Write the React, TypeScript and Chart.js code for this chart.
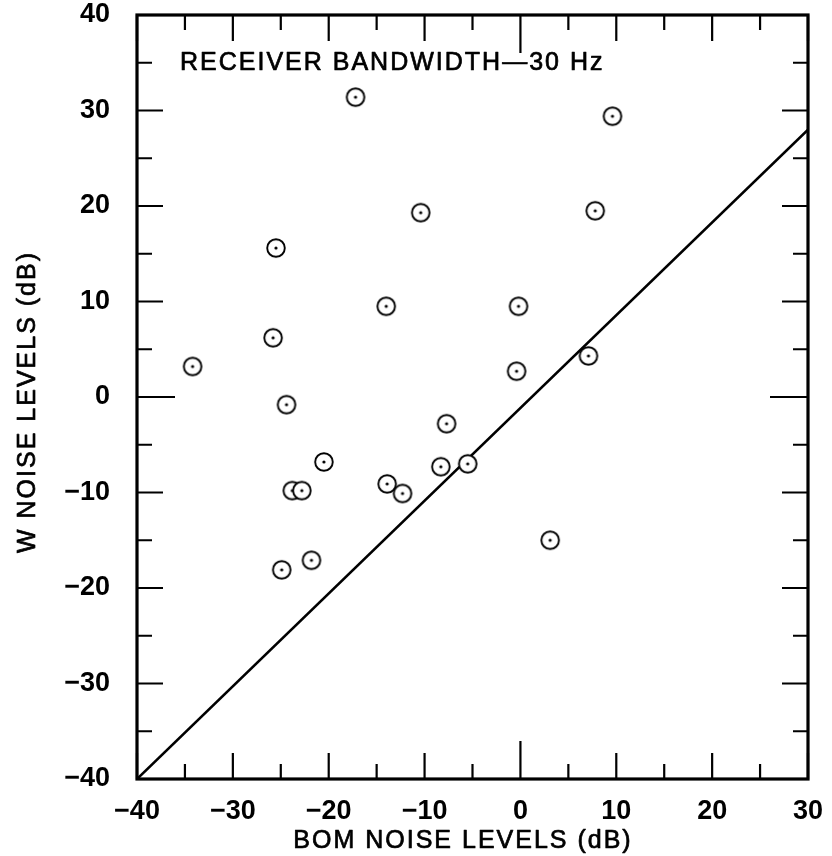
import React, { useEffect, useRef } from 'react';
import { Chart, registerables } from 'chart.js';

Chart.register(...registerables);

// BOM noise level (x) and W noise level (y), dB
const bomLevels = [-17.2, 9.6, -10.4, 7.8, -25.5, -14.0, -0.2, -25.8, -34.2, -0.4, 7.1, -24.4, -7.7, -20.5, -8.3, -5.5, -23.8, -22.8, -13.9, -12.3, 3.1, -21.8, -24.9];
const wLevels = [31.4, 29.4, 19.3, 19.5, 15.6, 9.5, 9.5, 6.2, 3.2, 2.7, 4.3, -0.8, -2.8, -6.8, -7.3, -7.0, -9.8, -9.8, -9.1, -10.1, -15.0, -17.1, -18.1];

// reference line
const refLineX = [-40, 30];
const refLineY = [-40, 28];

// axis ticks
const xMajorTicks = [-40, -30, -20, -10, 0, 10, 20, 30];
const xMinorTicks = [-35, -25, -15, -5, 5, 15, 25];
const yMajorTicks = [-40, -30, -20, -10, 0, 10, 20, 30, 40];
const yMinorTicks = [-35, -25, -15, -5, 5, 15, 25, 35];

const xTitle = 'BOM NOISE LEVELS (dB)';
const yTitle = 'W NOISE LEVELS (dB)';
const note = 'RECEIVER BANDWIDTH\u201430 Hz';

const FONT = '"Liberation Sans", Arial, Helvetica, sans-serif';

function makeMarker(): HTMLCanvasElement {
  const c = document.createElement('canvas');
  c.width = 24;
  c.height = 24;
  const g = c.getContext('2d')!;
  g.beginPath();
  g.arc(12, 12, 8.8, 0, Math.PI * 2);
  g.fillStyle = '#fff';
  g.fill();
  g.lineWidth = 1.9;
  g.strokeStyle = '#000';
  g.stroke();
  g.beginPath();
  g.arc(12, 12, 1.6, 0, Math.PI * 2);
  g.fillStyle = '#000';
  g.fill();
  return c;
}

const minus = (v: number | string) => String(v).replace('-', '\u2212');

const decor = {
  id: 'decor',
  afterDraw(chart: any) {
    const { ctx, chartArea: a, scales } = chart;
    const x = scales.x;
    const y = scales.y;
    ctx.save();
    ctx.strokeStyle = '#000';
    ctx.lineCap = 'butt';
    ctx.lineWidth = 2.2;
    const len = (v: number, major: boolean) => (v === 0 ? 38 : major ? 26 : 15);
    const drawX = (v: number, major: boolean) => {
      const px = x.getPixelForValue(v);
      const l = len(v, major);
      ctx.beginPath();
      ctx.moveTo(px, a.bottom);
      ctx.lineTo(px, a.bottom - l);
      ctx.moveTo(px, a.top);
      ctx.lineTo(px, a.top + l);
      ctx.stroke();
    };
    const drawY = (v: number, major: boolean) => {
      const py = y.getPixelForValue(v);
      const l = len(v, major);
      ctx.beginPath();
      ctx.moveTo(a.left, py);
      ctx.lineTo(a.left + l, py);
      ctx.moveTo(a.right, py);
      ctx.lineTo(a.right - l, py);
      ctx.stroke();
    };
    xMajorTicks.forEach((v) => drawX(v, true));
    xMinorTicks.forEach((v) => drawX(v, false));
    yMajorTicks.forEach((v) => drawY(v, true));
    yMinorTicks.forEach((v) => drawY(v, false));

    // frame
    ctx.lineWidth = 3.2;
    ctx.strokeRect(a.left, a.top, a.right - a.left, a.bottom - a.top);

    // texts
    ctx.fillStyle = '#000';
    ctx.strokeStyle = '#000';
    ctx.lineWidth = 0.7;
    ctx.lineJoin = 'round';
    ctx.font = `25px ${FONT}`;
    (ctx as any).letterSpacing = '2px';
    ctx.textAlign = 'left';
    ctx.textBaseline = 'alphabetic';
    ctx.fillText(note, 180, 70);
    ctx.strokeText(note, 180, 70);

    ctx.textAlign = 'center';
    ctx.textBaseline = 'alphabetic';
    ctx.fillText(xTitle, 463, 848);
    ctx.strokeText(xTitle, 463, 848);

    ctx.translate(26, 402);
    ctx.rotate(-Math.PI / 2);
    ctx.textBaseline = 'middle';
    ctx.fillText(yTitle, 0, 2);
    ctx.strokeText(yTitle, 0, 2);
    ctx.restore();
  },
};

export default function App() {
  const ref = useRef<HTMLCanvasElement | null>(null);

  useEffect(() => {
    if (!ref.current) return;
    const marker = makeMarker();
    const points = bomLevels.map((b, i) => ({ x: b, y: wLevels[i] }));
    const line = refLineX.map((v, i) => ({ x: v, y: refLineY[i] }));
    const chart = new Chart(ref.current, {
      type: 'scatter',
      data: {
        datasets: [
          {
            type: 'scatter',
            data: points,
            pointStyle: marker as any,
            pointRadius: 10,
            order: 0,
          } as any,
          {
            type: 'line',
            data: line,
            borderColor: '#000',
            borderWidth: 2.6,
            pointRadius: 0,
            fill: false,
            order: 1,
          } as any,
        ],
      },
      options: {
        responsive: false,
        animation: false,
        events: [],
        layout: { autoPadding: false, padding: { top: 15, right: 24, left: 0, bottom: 0 } },
        plugins: { legend: { display: false }, tooltip: { enabled: false } },
        scales: {
          x: {
            type: 'linear',
            min: -40,
            max: 30,
            grid: { display: false },
            border: { display: false },
            afterFit: (s: any) => {
              s.height = 77;
              s.paddingLeft = 0;
              s.paddingRight = 0;
              s.paddingTop = 0;
              s.paddingBottom = 0;
            },
            ticks: {
              stepSize: 10,
              padding: 8,
              color: '#000',
              font: { family: FONT, size: 27, weight: 'bold' },
              callback: (v: any) => minus(v),
              maxRotation: 0,
            },
          },
          y: {
            type: 'linear',
            min: -40,
            max: 40,
            grid: { display: false },
            border: { display: false },
            afterFit: (s: any) => {
              s.width = 137;
              s.paddingLeft = 0;
              s.paddingRight = 0;
              s.paddingTop = 0;
              s.paddingBottom = 0;
            },
            ticks: {
              stepSize: 10,
              padding: 19,
              color: '#000',
              font: { family: FONT, size: 27, weight: 'bold' },
              callback: (v: any) => minus(v),
            },
          },
        },
      },
      plugins: [decor],
    });
    return () => chart.destroy();
  }, []);

  return (
    <div style={{ position: 'absolute', left: 0, top: 0, width: 832, height: 856, background: '#fff' }}>
      <canvas ref={ref} width={832} height={856} style={{ width: 832, height: 856, display: 'block' }} />
    </div>
  );
}
